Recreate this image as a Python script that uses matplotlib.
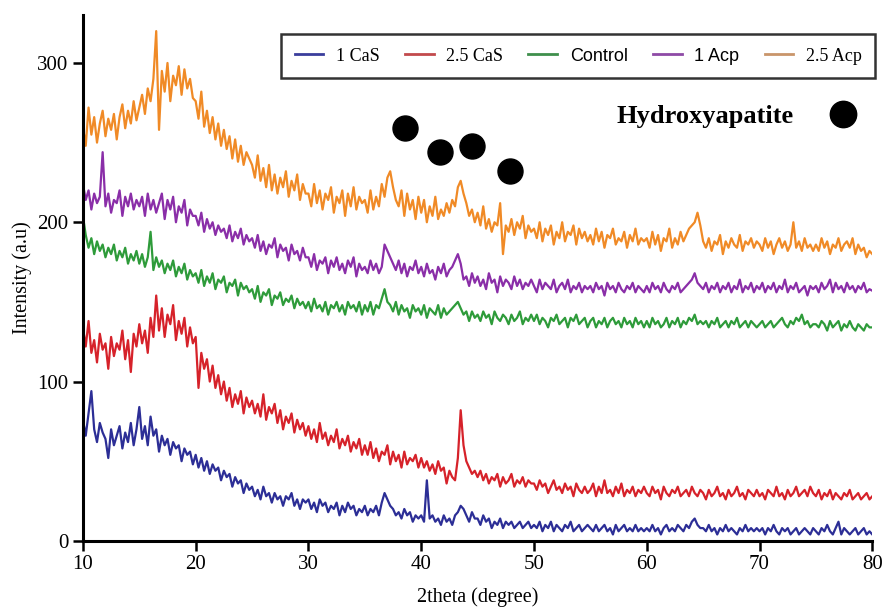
import numpy as np
import matplotlib
matplotlib.use("Agg")
import matplotlib.pyplot as plt

# 2theta grid, 0.25 deg steps
two_theta = np.linspace(10, 80, 281)

# intensities, one row per 5 degrees
acp_25 = [
    260, 248, 272, 255, 266, 250, 262, 270, 254, 265, 258, 268, 252, 266, 274, 259, 270, 262, 276, 264,
    272, 280, 268, 284, 276, 290, 320, 258, 295, 282, 300, 276, 292, 286, 298, 280, 296, 284, 290, 278,
    276, 265, 282, 260, 270, 256, 266, 252, 262, 248, 258, 246, 254, 240, 252, 238, 248, 236, 244, 240,
    236, 228, 242, 226, 234, 222, 236, 220, 230, 218, 228, 222, 232, 216, 226, 220, 230, 214, 224, 218,
    218, 210, 224, 212, 220, 208, 218, 214, 222, 206, 216, 212, 220, 204, 218, 210, 222, 208, 216, 212,
    214, 206, 220, 208, 216, 210, 224, 216, 228, 232, 222, 214, 210, 220, 204, 218, 208, 214, 202, 216,
    206, 214, 200, 210, 204, 216, 202, 208, 204, 212, 206, 214, 210, 222, 226, 218, 212, 204, 208, 200,
    206, 198, 210, 196, 202, 194, 200, 198, 212, 180, 198, 194, 202, 192, 200, 196, 204, 190, 198, 194,
    196, 190, 200, 188, 196, 192, 198, 186, 194, 190, 200, 188, 194, 192, 198, 186, 196, 190, 194, 188,
    192, 186, 196, 188, 194, 184, 192, 190, 196, 186, 190, 188, 194, 184, 192, 188, 196, 186, 190, 188,
    190, 184, 194, 186, 192, 182, 190, 188, 196, 184, 190, 186, 194, 188, 192, 196, 198, 200, 206, 198,
    188, 184, 190, 182, 188, 186, 192, 180, 188, 184, 190, 186, 184, 192, 182, 188, 186, 190, 184, 188,
    186, 182, 190, 184, 188, 180, 186, 190, 184, 188, 182, 186, 200, 184, 188, 182, 190, 184, 186, 182,
    186, 182, 190, 184, 188, 180, 186, 184, 190, 182, 186, 188, 184, 190, 180, 186, 182, 184, 178, 182,
    180,
]

acp_1 = [
    224, 214, 220, 208, 218, 212, 216, 244, 210, 218, 206, 214, 212, 220, 204, 216, 210, 218, 208, 214,
    210, 216, 204, 218, 208, 214, 206, 212, 218, 202, 214, 208, 216, 200, 210, 206, 214, 198, 208, 204,
    204, 198, 206, 194, 202, 196, 200, 192, 198, 194, 196, 190, 198, 188, 194, 190, 196, 186, 192, 188,
    190, 184, 192, 182, 188, 180, 186, 184, 190, 178, 186, 182, 184, 176, 186, 180, 182, 176, 184, 178,
    178, 172, 180, 170, 176, 174, 178, 168, 176, 172, 178, 170, 174, 168, 176, 172, 178, 166, 174, 170,
    172, 168, 176, 170, 174, 168, 172, 186, 182, 178, 174, 170, 176, 168, 174, 166, 172, 170, 176, 168,
    172, 166, 174, 168, 170, 164, 172, 168, 174, 166, 170, 172, 176, 180, 174, 164, 166, 160, 168, 162,
    166, 160, 164, 158, 168, 162, 164, 156, 166, 160, 164, 162, 158, 166, 160, 164, 158, 162, 160, 164,
    160, 156, 164, 158, 162, 160, 158, 164, 156, 160, 162, 158, 164, 156, 160, 158, 162, 156, 160, 158,
    160, 156, 162, 158, 160, 154, 162, 158, 160, 156, 162, 158, 156, 160, 158, 162, 156, 160, 158, 156,
    160, 156, 162, 158, 160, 156, 162, 158, 156, 160, 158, 162, 156, 158, 160, 162, 164, 168, 162, 160,
    158, 162, 156, 160, 158, 162, 156, 160, 158, 162, 156, 160, 158, 164, 156, 160, 158, 162, 156, 160,
    158, 162, 156, 160, 158, 162, 156, 160, 158, 164, 156, 160, 158, 162, 156, 158, 160, 154, 160, 158,
    160, 156, 162, 158, 160, 164, 156, 162, 158, 160, 156, 162, 158, 160, 156, 160, 158, 162, 156, 158,
    157,
]

control = [
    204, 192, 184, 190, 180, 188, 182, 186, 178, 184, 180, 186, 176, 182, 178, 184, 174, 180, 176, 182,
    174, 180, 172, 178, 194, 170, 178, 172, 176, 168, 174, 170, 176, 166, 172, 168, 174, 164, 170, 166,
    168, 162, 170, 160, 166, 162, 168, 158, 164, 162, 166, 156, 162, 160, 164, 154, 162, 158, 160, 156,
    158, 152, 160, 150, 156, 154, 158, 148, 154, 152, 156, 148, 152, 150, 154, 146, 152, 148, 150, 146,
    150, 144, 152, 146, 148, 144, 150, 142, 148, 146, 150, 144, 148, 142, 150, 146, 148, 144, 150, 142,
    148, 144, 150, 142, 148, 146, 152, 158, 150, 148, 144, 150, 142, 148, 144, 146, 140, 148, 144, 146,
    142, 148, 140, 146, 144, 142, 148, 140, 146, 142, 144, 146, 148, 150, 146, 142, 144, 138, 144, 140,
    142, 138, 144, 140, 142, 136, 144, 140, 138, 142, 140, 136, 142, 138, 140, 144, 136, 140, 138, 142,
    138, 142, 136, 140, 138, 134, 140, 138, 142, 136, 138, 140, 134, 140, 138, 142, 136, 138, 140, 134,
    138, 140, 134, 138, 136, 140, 134, 138, 140, 136, 138, 134, 140, 136, 138, 134, 140, 136, 138, 134,
    138, 134, 140, 136, 138, 134, 136, 140, 134, 138, 136, 140, 134, 138, 136, 140, 138, 142, 136, 138,
    136, 138, 134, 138, 136, 140, 134, 136, 138, 134, 138, 136, 140, 134, 136, 138, 134, 138, 136, 134,
    136, 138, 134, 136, 138, 134, 136, 138, 140, 136, 134, 138, 136, 140, 138, 142, 136, 138, 134, 136,
    136, 134, 138, 136, 132, 138, 134, 136, 138, 132, 136, 134, 138, 134, 132, 136, 134, 132, 136, 134,
    134,
]

cas_25 = [
    134, 122, 138, 118, 126, 112, 130, 120, 124, 108, 128, 116, 124, 120, 132, 114, 126, 106, 130, 122,
    136, 124, 132, 118, 140, 128, 154, 132, 146, 128, 142, 136, 148, 126, 138, 130, 140, 122, 134, 124,
    128, 96, 118, 108, 114, 100, 110, 96, 104, 92, 100, 88, 96, 84, 92, 86, 94, 80, 90, 84,
    88, 80, 86, 78, 92, 76, 84, 80, 86, 74, 82, 70, 78, 74, 80, 68, 76, 70, 74, 66,
    72, 64, 70, 62, 74, 64, 68, 60, 66, 62, 70, 58, 64, 60, 66, 56, 62, 58, 64, 54,
    60, 54, 62, 52, 58, 50, 56, 54, 60, 48, 56, 50, 54, 46, 56, 48, 52, 50, 54, 46,
    52, 46, 50, 44, 48, 42, 50, 44, 46, 36, 44, 40, 38, 52, 82, 60, 50, 46, 42, 44,
    40, 44, 38, 42, 36, 40, 38, 42, 34, 40, 36, 38, 42, 34, 38, 36, 40, 34, 38, 36,
    36, 32, 38, 34, 36, 30, 34, 38, 32, 34, 30, 36, 32, 34, 28, 36, 32, 30, 34, 30,
    32, 36, 28, 34, 30, 38, 30, 32, 28, 34, 30, 36, 28, 32, 30, 34, 28, 32, 30, 34,
    30, 28, 34, 30, 32, 26, 34, 30, 28, 32, 30, 34, 28, 30, 32, 28, 34, 30, 28, 32,
    30, 26, 32, 28, 30, 34, 28, 30, 26, 32, 28, 30, 34, 28, 30, 26, 32, 30, 28, 32,
    28, 30, 26, 32, 30, 28, 34, 28, 30, 26, 32, 28, 30, 34, 28, 30, 32, 28, 34, 30,
    28, 32, 26, 30, 28, 32, 26, 30, 28, 26, 30, 28, 32, 26, 28, 30, 26, 28, 30, 26,
    28,
]

cas_1 = [
    76, 66, 80, 94, 70, 62, 74, 68, 64, 52, 70, 60, 66, 72, 58, 68, 62, 74, 60, 70,
    84, 64, 72, 60, 78, 66, 70, 56, 66, 60, 64, 54, 62, 58, 60, 50, 58, 54, 56, 48,
    54, 46, 52, 44, 50, 42, 48, 44, 46, 38, 44, 40, 42, 34, 40, 36, 38, 30, 36, 32,
    34, 28, 32, 26, 34, 28, 30, 24, 30, 26, 28, 22, 28, 26, 30, 22, 26, 20, 26, 24,
    26, 20, 24, 18, 26, 22, 24, 18, 22, 20, 24, 16, 22, 18, 24, 20, 22, 16, 20, 18,
    22, 16, 20, 18, 22, 16, 24, 30, 26, 22, 20, 16, 18, 14, 20, 16, 18, 12, 16, 14,
    16, 12, 38, 14, 16, 12, 14, 10, 16, 12, 14, 10, 16, 18, 22, 20, 16, 12, 18, 14,
    14, 10, 16, 12, 14, 8, 12, 10, 14, 8, 12, 10, 12, 8, 10, 12, 8, 10, 12, 8,
    10, 8, 12, 6, 10, 8, 12, 6, 10, 8, 6, 10, 8, 12, 6, 8, 10, 6, 8, 10,
    8, 6, 10, 6, 8, 10, 6, 8, 4, 10, 6, 8, 10, 6, 8, 6, 10, 6, 8, 6,
    8, 6, 10, 6, 8, 4, 8, 10, 6, 8, 6, 10, 8, 6, 10, 8, 12, 14, 10, 8,
    8, 6, 10, 6, 8, 4, 8, 6, 10, 6, 8, 6, 4, 8, 6, 10, 6, 8, 6, 8,
    6, 8, 4, 8, 6, 10, 6, 4, 8, 6, 8, 4, 6, 8, 4, 6, 8, 6, 4, 8,
    6, 4, 8, 6, 10, 6, 4, 8, 12, 4, 8, 6, 4, 6, 8, 4, 6, 8, 4, 6,
    4,
]

labels = ["1 CaS", "2.5 CaS", "Control", "1 Acp", "2.5 Acp"]
series = [cas_1, cas_25, control, acp_1, acp_25]
colors = ["#2c2e96", "#d6222a", "#2e9b3a", "#8a2ea8", "#f08a26"]
legend_colors = ["#3a3d9c", "#c24a4c", "#3f8f4c", "#8e4aa6", "#c9956a"]
legend_fonts = ["Liberation Serif", "Liberation Serif", "Liberation Sans",
                "Liberation Sans", "Liberation Serif"]

# hydroxyapatite peak markers
hap_x = [38.6, 41.7, 44.5, 47.9]
hap_y = [259, 244, 248, 232]

plt.rcParams["font.family"] = "Liberation Serif"

fig = plt.figure(figsize=(8.82, 6.07), dpi=100)
ax = fig.add_axes([0.094, 0.109, 0.895, 0.866])

for y, c, lab in zip(series, colors, labels):
    ax.plot(two_theta, y, color=c, lw=1.6, label=lab)

ax.plot(hap_x, hap_y, "o", color="black", ms=18, ls="none")
ax.plot([77.4], [268], "o", color="black", ms=19)
ax.text(65.2, 266.5, "Hydroxyapatite", fontsize=19, fontweight="bold",
        ha="center", va="center")

ax.set_xlim(10, 80)
ax.set_ylim(0, 330)
ax.set_xticks(range(10, 81, 10))
ax.set_yticks([0, 100, 200, 300])
ax.set_xlabel("2theta (degree)", fontsize=14.5, labelpad=9)
ax.set_ylabel("Intensity (a.u)", fontsize=14.5)
ax.spines["top"].set_visible(False)
ax.spines["right"].set_visible(False)
ax.spines["left"].set_linewidth(2.2)
ax.spines["bottom"].set_linewidth(2.2)
ax.tick_params(width=1.8, length=7, labelsize=15)

leg = ax.legend(loc="lower left", bbox_to_anchor=(0.251, 0.880, 0.753, 0.082),
                mode="expand", ncol=5, fontsize=13, frameon=True, fancybox=False,
                edgecolor="black", handlelength=1.6, handletextpad=0.7,
                borderpad=0.75, borderaxespad=0)
leg.get_frame().set_linewidth(1.8)
for line, c in zip(leg.get_lines(), legend_colors):
    line.set_color(c)
    line.set_linewidth(2)
for t, f in zip(leg.get_texts(), legend_fonts):
    t.set_family(f)

fig.savefig("out.png", dpi=100)
